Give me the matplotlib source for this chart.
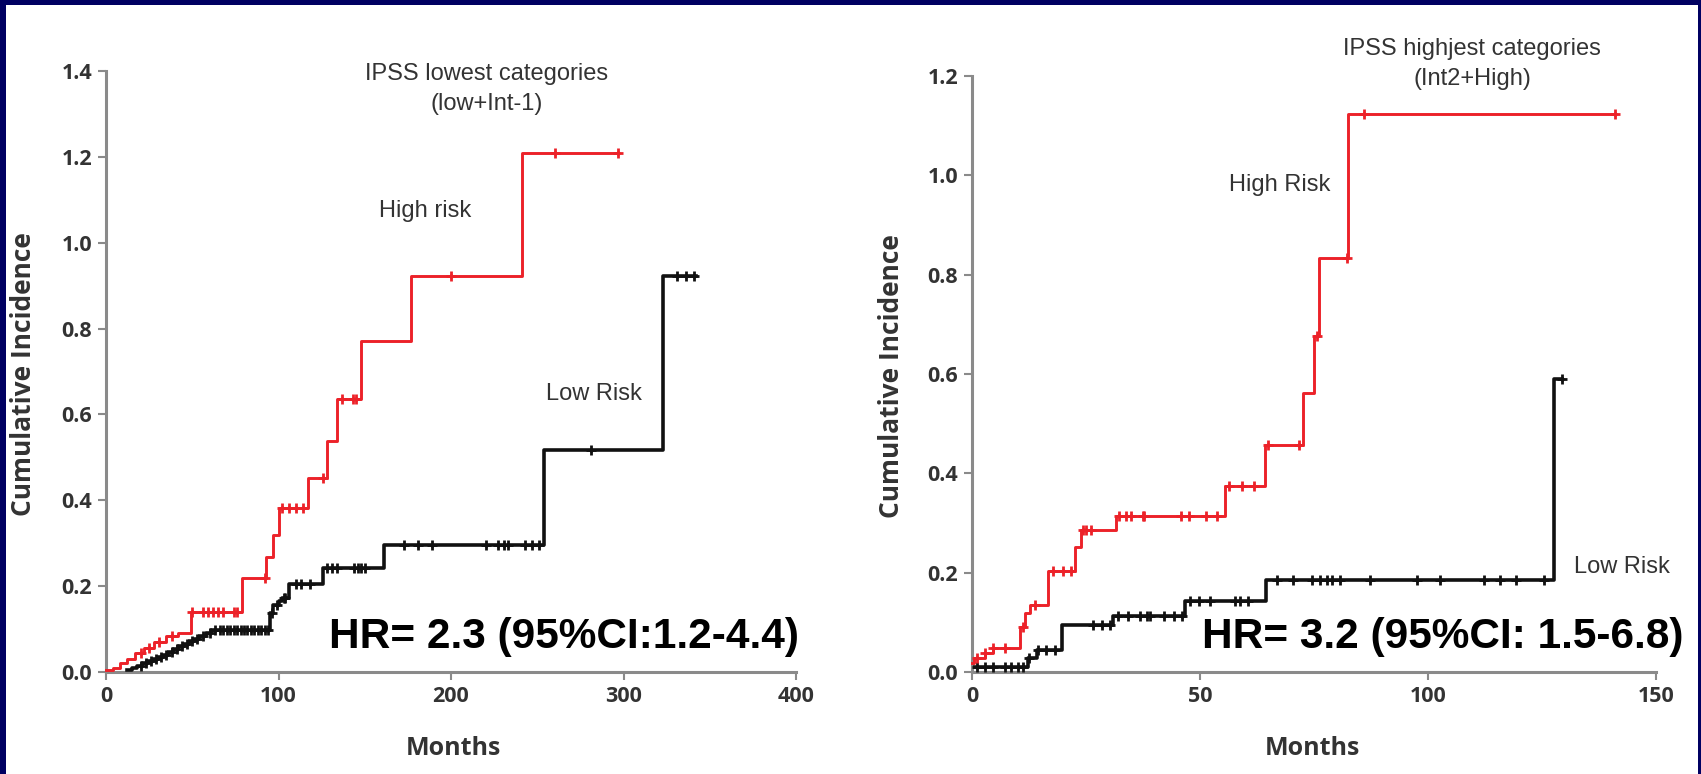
import numpy as np
import matplotlib
matplotlib.use('Agg')
import matplotlib.pyplot as plt
from matplotlib.patches import Rectangle

#### data (months, incidence)
# left panel: IPSS lowest categories
hi_l_times = [0, 4, 8, 12, 17, 22, 28, 35, 42, 49, 79, 93, 97, 100, 117, 128, 134, 148, 177, 241]
hi_l_vals = [0.005, 0.01, 0.02, 0.03, 0.045, 0.055, 0.07, 0.085, 0.09, 0.14, 0.218, 0.269, 0.319,
             0.381, 0.453, 0.537, 0.635, 0.772, 0.922, 1.208]
hi_l_end = 297
hi_l_cens = [20, 25, 31, 38, 50, 56, 59, 62, 65, 68, 74, 76, 92, 102, 106, 110, 114, 126, 137, 143, 145,
             200, 260, 297]

lo_l_times = [12, 15, 18, 21, 24, 27, 30, 33, 36, 39, 42, 45, 48, 51, 54, 58, 61, 95, 97, 100, 102, 106,
              126, 161, 254, 323]
lo_l_vals = [0.005, 0.01, 0.015, 0.02, 0.025, 0.03, 0.035, 0.04, 0.047, 0.053, 0.06, 0.066, 0.072, 0.077,
             0.083, 0.09, 0.098, 0.138, 0.156, 0.165, 0.173, 0.204, 0.242, 0.296, 0.518, 0.922]
lo_l_end = 342
lo_l_cens = [20, 23, 26, 29, 32, 35, 38, 41, 44, 47, 50, 53, 56, 60, 63, 66, 68, 70, 72, 74, 76, 78, 80,
             82, 84, 86, 88, 90, 92, 94, 96, 99, 103, 104, 110, 113, 118, 128, 131, 134, 144, 146, 148,
             150, 173, 181, 189, 220, 227, 231, 233, 243, 247, 251, 281, 331, 336, 341]

# right panel: IPSS highest categories
hi_r_times = [0, 0.5, 2.8, 4.7, 10.5, 11.6, 12.7, 16.7, 22.6, 24, 31.6, 55.5, 64.3, 72.6, 75, 76.2, 82.5]
hi_r_vals = [0.0175, 0.029, 0.038, 0.048, 0.091, 0.118, 0.135, 0.204, 0.252, 0.286, 0.314, 0.3745,
             0.457, 0.561, 0.677, 0.834, 1.1225]
hi_r_end = 141
hi_r_cens = [1, 2.9, 4.7, 7.3, 11.2, 13.8, 17.7, 19.9, 21.7, 24.3, 25, 26.2, 32.3, 33.8, 34.9, 37.4, 37.8,
             45.8, 47.6, 51.3, 53.8, 56.4, 59.3, 61.9, 64.9, 71.8, 75.6, 82.3, 86, 141]

lo_r_times = [0.7, 12.3, 14.2, 19.7, 31, 46.7, 64.5, 127.6]
lo_r_vals = [0.011, 0.0275, 0.044, 0.0946, 0.1127, 0.143, 0.185, 0.59]
lo_r_end = 129.4
lo_r_cens = [1, 2.8, 4.7, 7.2, 8.6, 10.1, 11.2, 12.6, 14.5, 16.3, 18.1, 26.6, 28.4, 30.3, 32.1, 34.3,
             36.8, 38.3, 39, 42, 44.2, 46, 47.8, 49.7, 52.2, 57.7, 58.8, 60.6, 66.8, 70.5, 74.5, 76.3,
             77.8, 78.9, 80.7, 87.3, 97.5, 102.7, 112.3, 115.8, 119.4, 125.4, 129.4]

RED = '#ec2229'
BLACK = '#111111'
SPINE = '#8a8a8a'
TXT = '#333333'
LABEL_FONT = 'Open Sans'


def draw_curve(ax, times, vals, end, cens, color, lw):
    x = np.r_[times, end]
    y = np.r_[vals, vals[-1]]
    ax.step(x, y, where='post', color=color, lw=lw, clip_on=False, zorder=3)
    idx = np.searchsorted(times, cens, side='right') - 1
    cy = np.array(vals)[np.clip(idx, 0, None)]
    # censor marks: tick with a small diamond
    ax.plot(cens, cy, ls='none', marker='+', ms=7, mew=2, color=color, clip_on=False, zorder=4)
    ax.plot(cens, cy, ls='none', marker='D', ms=3, mew=0, color=color, clip_on=False, zorder=4)


def style_axes(ax, xmax, ymax, xticks, yticks):
    ax.set_xlim(0, xmax)
    ax.set_ylim(0, ymax)
    ax.set_xticks(xticks)
    ax.set_yticks(yticks)
    ax.set_yticklabels(['%.1f' % v for v in yticks])
    for s in ['top', 'right']:
        ax.spines[s].set_visible(False)
    for s in ['left', 'bottom']:
        ax.spines[s].set_color(SPINE)
        ax.spines[s].set_linewidth(2.2)
    ax.tick_params(length=6, width=1.5, color=SPINE, labelcolor=TXT, labelsize=15.5, pad=4)
    for lab in ax.get_xticklabels() + ax.get_yticklabels():
        lab.set_fontfamily(LABEL_FONT)
        lab.set_fontweight('bold')
    ax.set_facecolor('none')


fig = plt.figure(figsize=(17.01, 7.74), dpi=100, facecolor='#000062')
fig.add_artist(Rectangle((6 / 1701, 0), 1692 / 1701, 769 / 774, transform=fig.transFigure,
                         facecolor='white', edgecolor='none', zorder=-10))

ax_a = fig.add_axes([106 / 1701, 102 / 774, 690 / 1701, 601 / 774])
ax_b = fig.add_axes([972 / 1701, 102 / 774, 684 / 1701, 596 / 774])

draw_curve(ax_a, lo_l_times, lo_l_vals, lo_l_end, lo_l_cens, BLACK, 2.6)
draw_curve(ax_a, hi_l_times, hi_l_vals, hi_l_end, hi_l_cens, RED, 2.1)
draw_curve(ax_b, lo_r_times, lo_r_vals, lo_r_end, lo_r_cens, BLACK, 2.6)
draw_curve(ax_b, hi_r_times, hi_r_vals, hi_r_end, hi_r_cens, RED, 2.1)

style_axes(ax_a, 400, 1.4, [0, 100, 200, 300, 400], [0.0, 0.2, 0.4, 0.6, 0.8, 1.0, 1.2, 1.4])
style_axes(ax_b, 150, 1.2, [0, 50, 100, 150], [0.0, 0.2, 0.4, 0.6, 0.8, 1.0, 1.2])

# axis labels
for ax, xl, yl in [(ax_a, 0.503, -0.119), (ax_b, 0.498, -0.117)]:
    ax.text(xl, -0.128, 'Months', transform=ax.transAxes, ha='center', va='center',
            fontsize=18, fontweight='bold', family=LABEL_FONT, color=TXT)
    ax.text(yl, 0.496, 'Cumulative Incidence', transform=ax.transAxes, ha='center', va='center',
            rotation=90, fontsize=19, fontweight='bold', family=LABEL_FONT, color=TXT)

# titles and curve names
ax_a.text(0.552, 0.970, 'IPSS lowest categories\n(low+Int-1)', transform=ax_a.transAxes,
          ha='center', va='center', fontsize=17, family='Liberation Sans', color=TXT, linespacing=1.45)
ax_b.text(0.731, 1.020, 'IPSS highjest categories\n(Int2+High)', transform=ax_b.transAxes,
          ha='center', va='center', fontsize=17, family='Liberation Sans', color=TXT, linespacing=1.45)

ax_a.text(185, 1.074, 'High risk', ha='center', va='center', fontsize=17, family='Liberation Sans', color=TXT)
ax_a.text(283, 0.648, 'Low Risk', ha='center', va='center', fontsize=17, family='Liberation Sans', color=TXT)
ax_b.text(67.5, 0.981, 'High Risk', ha='center', va='center', fontsize=17, family='Liberation Sans', color=TXT)
ax_b.text(142.5, 0.211, 'Low Risk', ha='center', va='center', fontsize=17, family='Liberation Sans',
          color=TXT, clip_on=False)

# hazard ratios
ax_a.text(129.3, 0.056, 'HR= 2.3 (95%CI:1.2-4.4)', ha='left', va='baseline', fontsize=30.5,
          fontweight='bold', family='Liberation Sans', color='black', zorder=5)
ax_b.text(50.4, 0.048, 'HR= 3.2 (95%CI: 1.5-6.8)', ha='left', va='baseline', fontsize=30.5,
          fontweight='bold', family='Liberation Sans', color='black', zorder=5, clip_on=False)

fig.savefig('out.png', dpi=100, facecolor=fig.get_facecolor())
